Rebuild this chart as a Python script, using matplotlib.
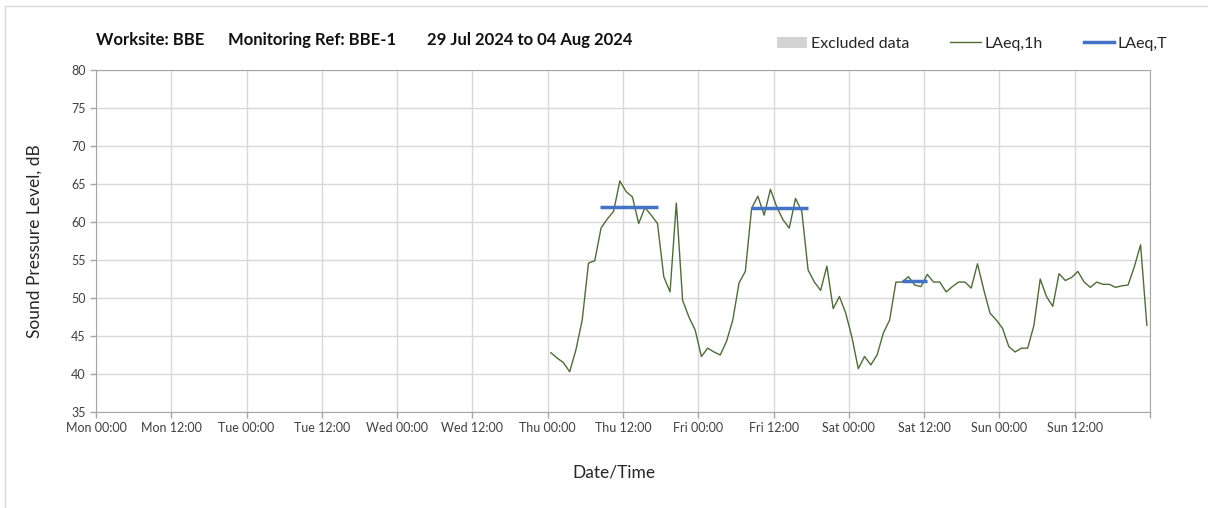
import matplotlib
matplotlib.use("Agg")
import matplotlib.pyplot as plt
from matplotlib.patches import Patch, Rectangle
from matplotlib.lines import Line2D

plt.rcParams["font.family"] = ["Lato", "DejaVu Sans"]

# hourly LAeq,1h values, starting Thu 00:00 (hour 72 from Mon 00:00), plotted mid-hour
start_hour = 72.5
laeq_1h = [
    42.8, 42.1, 41.5, 40.3, 43.2, 47.1, 54.6, 54.9, 59.2, 60.4, 61.4, 65.4,
    64.0, 63.3, 59.8, 61.9, 60.9, 59.8, 52.8, 50.8, 62.5, 49.7, 47.5, 45.8,
    42.3, 43.4, 42.9, 42.5, 44.3, 47.1, 52.0, 53.5, 61.8, 63.4, 60.9, 64.3,
    62.0, 60.3, 59.2, 63.1, 61.4, 53.7, 52.1, 51.0, 54.2, 48.6, 50.2, 48.0,
    44.8, 40.7, 42.3, 41.2, 42.5, 45.4, 47.1, 52.1, 52.1, 52.8, 51.7, 51.5,
    53.1, 52.1, 52.1, 50.8, 51.5, 52.1, 52.1, 51.3, 54.5, 51.1, 48.0, 47.1,
    46.0, 43.6, 42.9, 43.4, 43.4, 46.4, 52.5, 50.2, 48.9, 53.2, 52.3, 52.7,
    53.5, 52.1, 51.4, 52.1, 51.8, 51.8, 51.4, 51.6, 51.7, 54.1, 57.0, 46.4,
]

# LAeq,T periods (hours from Mon 00:00) and levels
period_start = [80.3, 104.4, 128.4]
period_end = [89.5, 113.5, 132.5]
laeq_t = [62.0, 61.8, 52.3]

tick_labels = ["Mon 00:00", "Mon 12:00", "Tue 00:00", "Tue 12:00", "Wed 00:00",
               "Wed 12:00", "Thu 00:00", "Thu 12:00", "Fri 00:00", "Fri 12:00",
               "Sat 00:00", "Sat 12:00", "Sun 00:00", "Sun 12:00", ""]

title_parts = ["Worksite: BBE", "Monitoring Ref: BBE-1", "29 Jul 2024 to 04 Aug 2024"]
title_x = [96, 228, 427]

hours = [start_hour + i for i in range(len(laeq_1h))]

fig = plt.figure(figsize=(12.08, 5.08), dpi=100)
ax = fig.add_axes([96 / 1208, 1 - 412 / 508, (1150 - 96) / 1208, (412 - 70) / 508])

# outer frame
fig.patches.append(Rectangle((5 / 1208, -0.05), 1.1, 1 - 6 / 508 + 0.05,
                             transform=fig.transFigure, fill=False,
                             edgecolor="#d9d9d9", linewidth=1))

ax.plot(hours, laeq_1h, color="#4f6b3a", linewidth=1.0)
ax.hlines(laeq_t, period_start, period_end, color="#4472c4", linewidth=2.5)

ax.set_xlim(0, 168)
ax.set_ylim(35, 80)
ax.set_xticks(range(0, 169, 12))
ax.set_xticklabels(tick_labels)
ax.set_yticks(range(35, 81, 5))
ax.grid(True, color="#d9d9d9", linewidth=1)
ax.set_axisbelow(True)
for s in ax.spines.values():
    s.set_color("#a6a6a6")
ax.tick_params(axis="both", colors="#a6a6a6", labelcolor="#404040",
               labelsize=9, length=4, width=1)

ax.set_xlabel("Date/Time", fontsize=12.5, color="#262626")
ax.xaxis.set_label_coords((614 - 96) / (1150 - 96), -(465 - 412) / (412 - 70))
ax.set_ylabel("Sound Pressure Level, dB", fontsize=12.5, color="#262626")
ax.yaxis.set_label_coords(-(96 - 43) / (1150 - 96), 0.5)

for txt, x in zip(title_parts, title_x):
    fig.text(x / 1208, 1 - 40 / 508, txt, fontsize=12, fontweight="bold",
             color="#111111", va="center")

handles = [Patch(facecolor="#d3d3d3", edgecolor="none"),
           Line2D([], [], color="#4f6b3a", linewidth=1.0),
           Line2D([], [], color="#4472c4", linewidth=2.5)]
fig.legend(handles, ["Excluded data", "LAeq,1h", "LAeq,T"], ncol=3,
           loc="center", bbox_to_anchor=(972 / 1208, 1 - 44 / 508),
           frameon=False, fontsize=11.5, handlelength=1.9, handletextpad=0.2,
           columnspacing=2.6, labelcolor="#262626")

fig.savefig("out.png", dpi=100, facecolor="white")
